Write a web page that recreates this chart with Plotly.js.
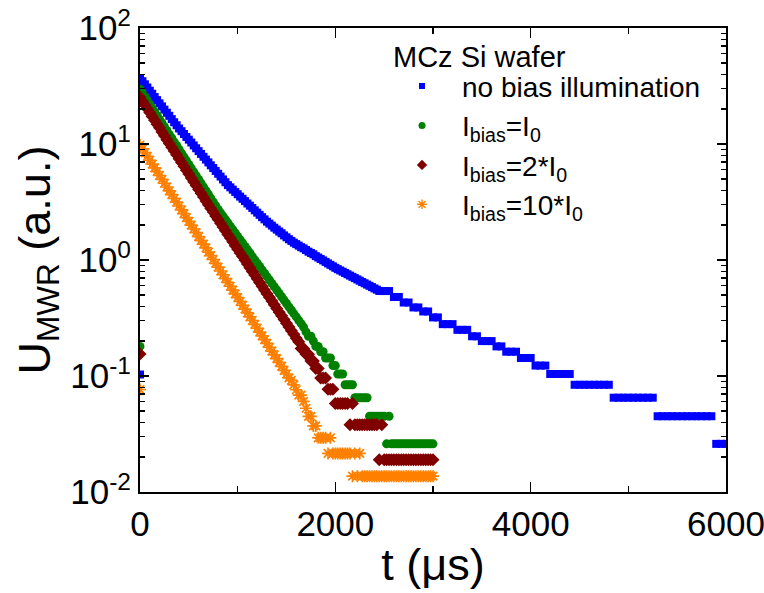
<!DOCTYPE html>
<html>
<head>
<meta charset="utf-8">
<script src="https://cdn.plot.ly/plotly-3.0.1.min.js"></script>
<style>html,body{margin:0;padding:0;background:#fff;}#chart{width:764px;height:593px;}</style>
</head>
<body>
<div id="chart"></div>
<script>
// ---------------- data ----------------
const legendTitle = 'MCz Si wafer';
const seriesNames = ['no bias illumination',
  'I<sub>bias</sub>=I<sub>0</sub>',
  'I<sub>bias</sub>=2*I<sub>0</sub>',
  'I<sub>bias</sub>=10*I<sub>0</sub>'];

// pre-trigger baseline sample at t = 0 (blue, green, red, orange)
const baseline = [0.103, 0.18, 0.155, 0.0765];

// no bias illumination, early part: t = 0, 25, 50 ... 2475 µs
const noBiasEarly = [
  37.0, 34.8, 32.7, 30.7, 28.8, 27.1, 25.4, 23.9, 22.4, 21.1,
  19.8, 18.6, 17.5, 16.4, 15.4, 14.5, 13.6, 12.9, 12.2, 11.5,
  10.9, 10.3, 9.72, 9.19, 8.68, 8.21, 7.76, 7.34, 6.94, 6.55,
  6.20, 5.86, 5.54, 5.24, 4.95, 4.68, 4.42, 4.23, 4.04, 3.86,
  3.69, 3.52, 3.37, 3.22, 3.07, 2.94, 2.81, 2.68, 2.56, 2.45,
  2.34, 2.24, 2.14, 2.06, 1.98, 1.90, 1.83, 1.76, 1.70, 1.63,
  1.57, 1.51, 1.46, 1.41, 1.37, 1.33, 1.29, 1.26, 1.22, 1.18,
  1.15, 1.12, 1.08, 1.05, 1.02, 0.992, 0.963, 0.935, 0.908, 0.882,
  0.856, 0.834, 0.813, 0.793, 0.773, 0.753, 0.734, 0.716, 0.698, 0.680,
  0.663, 0.646, 0.630, 0.614, 0.599, 0.584, 0.569, 0.555, 0.541, 0.54
];
// no bias illumination, late part: t = 2500, 2550 ... 6000 µs
const noBiasLate = [
  0.54, 0.54, 0.48, 0.48, 0.43, 0.43, 0.39, 0.39, 0.36, 0.36,
  0.32, 0.32, 0.28, 0.28, 0.28, 0.25, 0.25, 0.25, 0.22, 0.22,
  0.20, 0.20, 0.20, 0.18, 0.18, 0.162, 0.162, 0.162, 0.143, 0.143,
  0.143, 0.123, 0.123, 0.123, 0.104, 0.104, 0.104, 0.104, 0.104, 0.084,
  0.084, 0.084, 0.084, 0.084, 0.084, 0.084, 0.084, 0.065, 0.065, 0.065,
  0.065, 0.065, 0.065, 0.065, 0.065, 0.065, 0.045, 0.045, 0.045, 0.045,
  0.045, 0.045, 0.045, 0.045, 0.045, 0.045, 0.045, 0.045, 0.026, 0.026,
  0.026
];

// I_bias = I_0, t = 0, 25, 50 ... 3000 µs
const bias1 = [
  29.7, 27.6, 25.6, 23.7, 22.0, 20.4, 19.0, 17.6, 16.3, 15.2,
  14.1, 13.1, 12.1, 11.3, 10.4, 9.70, 9.00, 8.35, 7.75, 7.19,
  6.68, 6.20, 5.75, 5.34, 4.95, 4.60, 4.27, 3.96, 3.68, 3.41,
  3.17, 2.94, 2.73, 2.55, 2.39, 2.23, 2.09, 1.95, 1.83, 1.71,
  1.60, 1.50, 1.40, 1.31, 1.23, 1.15, 1.07, 1.00, 0.938, 0.878,
  0.821, 0.768, 0.719, 0.672, 0.629, 0.589, 0.551, 0.515, 0.482, 0.451,
  0.422, 0.394, 0.369, 0.345, 0.323, 0.302, 0.283, 0.264, 0.24, 0.22,
  0.22, 0.20, 0.18, 0.18, 0.162, 0.162, 0.143, 0.143, 0.143, 0.123,
  0.123, 0.104, 0.104, 0.104, 0.084, 0.084, 0.084, 0.084, 0.065, 0.065,
  0.065, 0.065, 0.065, 0.065, 0.045, 0.045, 0.045, 0.045, 0.045, 0.045,
  0.045, 0.026, 0.045, 0.026, 0.026, 0.026, 0.026, 0.026, 0.026, 0.026,
  0.026, 0.026, 0.026, 0.026, 0.026, 0.026, 0.026, 0.026, 0.026, 0.026,
  0.026
];

// I_bias = 2*I_0, t = 0, 25, 50 ... 3000 µs
const bias2 = [
  25.3, 23.4, 21.7, 20.1, 18.7, 17.3, 16.0, 14.8, 13.8, 12.7,
  11.8, 10.9, 10.1, 9.39, 8.71, 8.07, 7.47, 6.92, 6.42, 5.95,
  5.51, 5.10, 4.73, 4.38, 4.06, 3.76, 3.49, 3.23, 2.99, 2.78,
  2.59, 2.40, 2.23, 2.07, 1.93, 1.79, 1.66, 1.55, 1.44, 1.33,
  1.24, 1.15, 1.07, 0.994, 0.923, 0.858, 0.797, 0.741, 0.688, 0.639,
  0.594, 0.552, 0.513, 0.477, 0.443, 0.411, 0.382, 0.355, 0.330, 0.307,
  0.285, 0.265, 0.246, 0.229, 0.212, 0.197, 0.173, 0.173, 0.154, 0.154,
  0.135, 0.135, 0.116, 0.116, 0.096, 0.096, 0.096, 0.077, 0.077, 0.077,
  0.058, 0.058, 0.058, 0.058, 0.058, 0.058, 0.038, 0.058, 0.038, 0.038,
  0.038, 0.038, 0.038, 0.038, 0.038, 0.038, 0.038, 0.038, 0.019, 0.038,
  0.019, 0.019, 0.019, 0.019, 0.019, 0.019, 0.019, 0.019, 0.019, 0.019,
  0.019, 0.019, 0.019, 0.019, 0.019, 0.019, 0.019, 0.019, 0.019, 0.019,
  0.019
];

// I_bias = 10*I_0, t = 0, 25, 50 ... 3000 µs
const bias10 = [
  9.80, 9.08, 8.42, 7.81, 7.24, 6.71, 6.22, 5.77, 5.35, 4.95,
  4.59, 4.26, 3.95, 3.66, 3.39, 3.15, 2.92, 2.70, 2.51, 2.32,
  2.15, 2.00, 1.85, 1.72, 1.59, 1.47, 1.37, 1.27, 1.17, 1.09,
  1.01, 0.936, 0.868, 0.804, 0.746, 0.691, 0.641, 0.594, 0.551, 0.511,
  0.473, 0.439, 0.407, 0.377, 0.350, 0.324, 0.301, 0.279, 0.258, 0.239,
  0.222, 0.206, 0.191, 0.177, 0.164, 0.152, 0.141, 0.131, 0.121, 0.112,
  0.104, 0.0964, 0.0917, 0.0839, 0.0761, 0.0683, 0.0683, 0.0605, 0.0527, 0.0449,
  0.0449, 0.0371, 0.0371, 0.0293, 0.0293, 0.0293, 0.0293, 0.0215, 0.0293, 0.0215,
  0.0215, 0.0215, 0.0215, 0.0215, 0.0215, 0.0215, 0.0215, 0.0137, 0.0215, 0.0137,
  0.0215, 0.0137, 0.0137, 0.0137, 0.0137, 0.0137, 0.0137, 0.0137, 0.0137, 0.0137,
  0.0137, 0.0137, 0.0137, 0.0137, 0.0137, 0.0137, 0.0137, 0.0137, 0.0137, 0.0137,
  0.0137, 0.0137, 0.0137, 0.0137, 0.0137, 0.0137, 0.0137, 0.0137, 0.0137, 0.0137,
  0.0137
];

const xTickVals = [0, 2000, 4000, 6000];
const xTickText = ['0', '2000', '4000', '6000'];
const yTickVals = [0.01, 0.1, 1, 10, 100];
const yTickText = ['10<sup>-2</sup>', '10<sup>-1</sup>', '10<sup>0</sup>', '10<sup>1</sup>', '10<sup>2</sup>'];

// ---------------- build ----------------
const FONT = '"Liberation Sans", Arial, Helvetica, sans-serif';

function grid(n, start, dt) { const a = []; for (let i = 0; i < n; i++) a.push(start + i * dt); return a; }

const seriesX = [
  [0].concat(grid(noBiasEarly.length, 0, 25), grid(noBiasLate.length, 2500, 50)),
  [0].concat(grid(bias1.length, 0, 25)),
  [0].concat(grid(bias2.length, 0, 25)),
  [0].concat(grid(bias10.length, 0, 25))
];
const seriesY = [
  [baseline[0]].concat(noBiasEarly, noBiasLate),
  [baseline[1]].concat(bias1),
  [baseline[2]].concat(bias2),
  [baseline[3]].concat(bias10)
];
const colors = ['#0000ff', '#008000', '#800000', '#ff8000'];
const symbols = ['square', 'circle', 'diamond', 'asterisk-open'];
const sizes = [8, 9, 10, 10];
const legendSizes = [6, 7, 8, 8];

const traces = seriesY.map((ys, k) => ({
  type: 'scatter', mode: 'markers', showlegend: false,
  x: seriesX[k], y: ys,
  marker: {
    symbol: symbols[k], size: sizes[k], color: colors[k],
    line: k === 3 ? {color: colors[k], width: 1.7} : {width: 0}
  }
}));
// legend entries (small symbols as in the reference)
seriesNames.forEach((nm, k) => traces.push({
  type: 'scatter', mode: 'markers', name: nm, x: [null], y: [null], showlegend: true,
  marker: {
    symbol: symbols[k], size: legendSizes[k], color: colors[k],
    line: k === 3 ? {color: colors[k], width: 1.4} : {width: 0}
  }
}));

const yMinor = [];
for (let e = -2; e < 2; e++) for (let m = 2; m <= 9; m++) yMinor.push(m * Math.pow(10, e));

const layout = {
  width: 764, height: 593,
  margin: {l: 140, r: 38, t: 28, b: 101},
  paper_bgcolor: '#ffffff', plot_bgcolor: '#ffffff',
  font: {family: FONT, color: '#000000'},
  showlegend: true,
  legend: {
    x: 0.413, y: 0.928, xanchor: 'left', yanchor: 'top',
    bgcolor: 'rgba(0,0,0,0)', borderwidth: 0,
    font: {family: FONT, size: 28, color: '#000'},
    itemwidth: 70, tracegroupgap: 0
  },
  annotations: [{
    text: legendTitle, xref: 'paper', yref: 'paper',
    x: (391 - 140) / 586, y: 1 - (57 - 28) / 464, xanchor: 'left', yanchor: 'middle',
    showarrow: false, font: {family: FONT, size: 29, color: '#000'}
  }],
  xaxis: {
    range: [0, 6000], showgrid: false, zeroline: false,
    showline: true, linecolor: '#000', linewidth: 2, mirror: 'ticks',
    ticks: 'inside', ticklen: 10, tickwidth: 1.5, tickcolor: '#000',
    tickmode: 'array', tickvals: xTickVals, ticktext: xTickText,
    ticklabeloverflow: 'allow',
    minor: {tickvals: [1000, 3000, 5000], ticks: 'inside', ticklen: 6, tickwidth: 1.5, tickcolor: '#000', showgrid: false},
    tickfont: {family: FONT, size: 35, color: '#000'},
    title: {text: 't (μs)', font: {family: FONT, size: 45, color: '#000'}, standoff: 6}
  },
  yaxis: {
    type: 'log', range: [-2, 2], showgrid: false, zeroline: false,
    showline: true, linecolor: '#000', linewidth: 2, mirror: 'ticks',
    ticks: 'inside', ticklen: 9, tickwidth: 1.5, tickcolor: '#000',
    tickmode: 'array', tickvals: yTickVals, ticktext: yTickText,
    ticklabeloverflow: 'allow',
    minor: {tickvals: yMinor, ticks: 'inside', ticklen: 5, tickwidth: 1.2, tickcolor: '#000', showgrid: false},
    tickfont: {family: FONT, size: 35, color: '#000'},
    title: {text: 'U<sub>MWR</sub> (a.u.)', font: {family: FONT, size: 45, color: '#000'}, standoff: 6}
  }
};

Plotly.newPlot('chart', traces, layout, {staticPlot: true, displayModeBar: false});
</script>
</body>
</html>
